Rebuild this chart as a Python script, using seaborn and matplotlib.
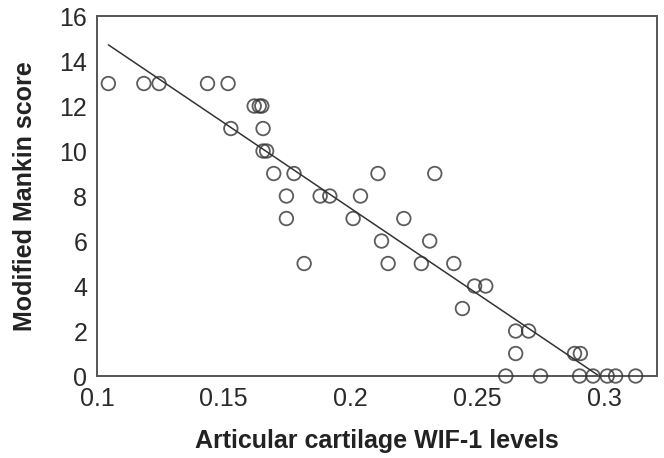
import matplotlib
matplotlib.use("Agg")
import matplotlib.pyplot as plt
import seaborn as sns
import pandas as pd

# WIF-1 levels and Mankin scores
wif1 = [0.1045, 0.1185, 0.1245, 0.1436, 0.1517,
        0.162, 0.164, 0.165,
        0.1528, 0.1655,
        0.1655, 0.1669,
        0.1697, 0.1777, 0.2108, 0.2332,
        0.1747, 0.188, 0.1918, 0.2039,
        0.1747, 0.2010, 0.2210,
        0.2122, 0.2312,
        0.1817, 0.2148, 0.2279, 0.2407,
        0.2489, 0.2533,
        0.2441,
        0.2651, 0.2702,
        0.2651, 0.2883, 0.2906,
        0.2612, 0.2749, 0.2903, 0.2956, 0.3012, 0.3045, 0.3124]
mankin = [13, 13, 13, 13, 13,
          12, 12, 12,
          11, 11,
          10, 10,
          9, 9, 9, 9,
          8, 8, 8, 8,
          7, 7, 7,
          6, 6,
          5, 5, 5, 5,
          4, 4,
          3,
          2, 2,
          1, 1, 1,
          0, 0, 0, 0, 0, 0, 0]

xticks = [0.1, 0.15, 0.2, 0.25, 0.3]
xticklabels = ["0.1", "0.15", "0.2", "0.25", "0.3"]
yticks = [0, 2, 4, 6, 8, 10, 12, 14, 16]

df = pd.DataFrame({"wif1": wif1, "mankin": mankin})

sns.set_style("white")
plt.rcParams['font.family'] = ['Liberation Sans', 'DejaVu Sans']

fig = plt.figure(figsize=(6.64, 4.58), dpi=100)
ax = fig.add_axes([0.146, 0.179, 0.843, 0.786])

sns.regplot(data=df, x="wif1", y="mankin", ax=ax, ci=None,
            scatter_kws=dict(s=95, facecolors="none", edgecolors="#333333",
                             linewidths=1.3, clip_on=False, zorder=3),
            line_kws=dict(color="#333333", linewidth=1.1))

ax.set_xlim(0.1, 0.3207)
ax.set_ylim(0, 16)
ax.set_xticks(xticks)
ax.set_xticklabels(xticklabels)
ax.set_yticks(yticks)
ax.tick_params(axis="both", direction="in", length=5, width=1, color="#555555",
               labelsize=18, labelcolor="#2a2a2a", top=False, right=False)
ax.tick_params(axis="x", pad=8)
ax.tick_params(axis="y", pad=7)

for s in ax.spines.values():
    s.set_color("#555555")
    s.set_linewidth(1.4)

ax.set_xlabel("Articular cartilage WIF-1 levels", fontsize=18, fontweight="bold",
              color="#222222", labelpad=13)
ax.set_ylabel("Modified Mankin score", fontsize=18, fontweight="bold",
              color="#222222", labelpad=16)

fig.savefig("out.png", dpi=100)
